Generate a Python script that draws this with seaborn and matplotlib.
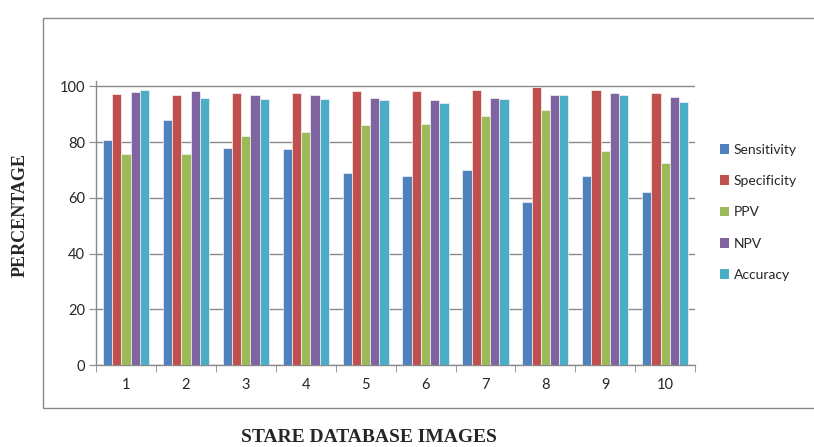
import pandas as pd
import matplotlib.pyplot as plt
import seaborn as sns
from matplotlib.patches import Rectangle

# values
images = ['1', '2', '3', '4', '5', '6', '7', '8', '9', '10']
sensitivity = [80.9, 87.9, 78.0, 77.5, 69.0, 67.7, 70.1, 58.4, 67.7, 62.1]
specificity = [97.4, 96.8, 97.7, 97.7, 98.2, 98.2, 98.7, 99.8, 98.7, 97.7]
ppv = [75.7, 75.7, 82.2, 83.7, 86.0, 86.5, 89.2, 91.6, 76.7, 72.4]
npv = [97.8, 98.2, 96.8, 96.8, 95.8, 95.0, 95.8, 96.8, 97.7, 96.3]
accuracy = [98.6, 95.8, 95.3, 95.3, 95.0, 94.0, 95.3, 96.8, 96.8, 94.5]

metrics = ['Sensitivity', 'Specificity', 'PPV', 'NPV', 'Accuracy']
colors = ['#4F81BD', '#C0504D', '#9BBB59', '#8064A2', '#4BACC6']

df = pd.DataFrame({'Image': images, 'Sensitivity': sensitivity,
                   'Specificity': specificity, 'PPV': ppv, 'NPV': npv,
                   'Accuracy': accuracy})
long_df = df.melt(id_vars='Image', var_name='Metric', value_name='Value')

sns.set_style('white')
plt.rcParams['font.family'] = ['Lato', 'DejaVu Sans']

fig = plt.figure(figsize=(8.14, 4.47), dpi=100)
ax = fig.add_axes([0.118, 0.1834, 0.736, 0.636])

sns.barplot(data=long_df, x='Image', y='Value', hue='Metric', order=images,
            hue_order=metrics, palette=colors, width=0.77, saturation=1, ax=ax,
            edgecolor='#f4f4f4', linewidth=0.5, zorder=3)

ax.set_xlim(-0.5, 9.5)
ax.set_ylim(0, 102)
ax.set_yticks(range(0, 101, 20))
ax.yaxis.grid(True, color='#8a8a8a', linewidth=1, zorder=0)
ax.set_axisbelow(True)

# ticks between categories on x axis
ax.set_xticks([i - 0.5 for i in range(11)], minor=True)
ax.tick_params(axis='x', which='major', length=0, pad=9, labelsize=10.5)
ax.tick_params(axis='x', which='minor', length=5, color='#8a8a8a', direction='out', bottom=True)
ax.tick_params(axis='y', length=5, color='#8a8a8a', direction='out', left=True, labelsize=10.5, pad=3)

for side in ['top', 'right']:
    ax.spines[side].set_visible(False)
for side in ['left', 'bottom']:
    ax.spines[side].set_color('#8a8a8a')
    ax.spines[side].set_linewidth(1)

ax.set_xlabel('')
ax.set_ylabel('')

leg = ax.legend(loc='center left', bbox_to_anchor=(1.02, 0.537), frameon=False,
                fontsize=10, handlelength=0.7, handleheight=0.7,
                handletextpad=0.3, labelspacing=1.38)
for h in leg.legend_handles:
    h.set_edgecolor('none')

# outer border of the chart area
fig.patches.append(Rectangle((0.0528, 0.0872), 1.0, 0.8725, transform=fig.transFigure,
                             fill=False, edgecolor='#8a8a8a', linewidth=1))

fig.text(0.453, 0.022, 'STARE DATABASE IMAGES', ha='center', va='center',
         family='Liberation Serif', fontweight='bold', fontsize=14)
fig.text(0.025, 0.52, 'PERCENTAGE', ha='center', va='center', rotation=90,
         family='Liberation Serif', fontweight='bold', fontsize=13)

plt.savefig('out.png', dpi=100)
